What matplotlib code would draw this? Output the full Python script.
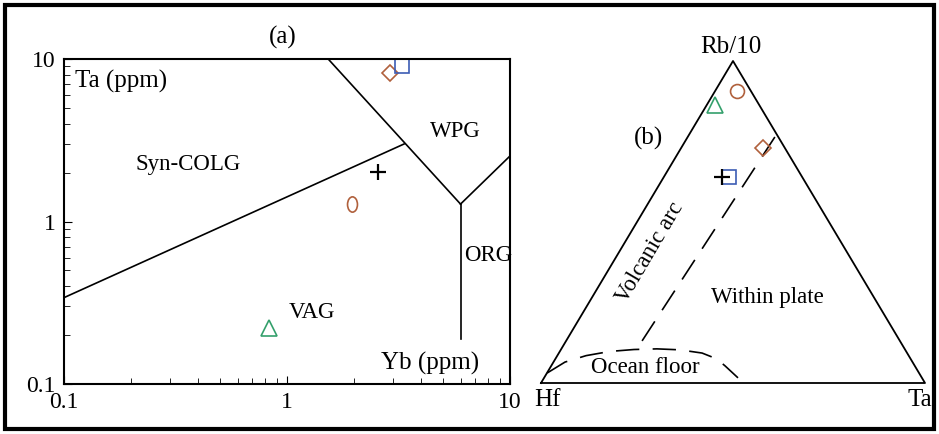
import numpy as np
import matplotlib
matplotlib.use("Agg")
import matplotlib.pyplot as plt
from matplotlib.patches import Rectangle
from matplotlib.path import Path
from matplotlib.transforms import Affine2D
from matplotlib.ticker import LogLocator, NullFormatter, FixedLocator, FixedFormatter

plt.rcParams['font.family'] = ['Liberation Serif', 'DejaVu Serif']

# ---- data: (a) Yb-Ta diagram ----
syn_vag_yb = [0.1, 3.35]
syn_vag_ta = [0.34, 3.0]
wpg_yb = [1.53, 6.0]
wpg_ta = [10.0, 1.28]
org_right_yb = [6.0, 10.0]
org_right_ta = [1.28, 2.53]
org_vert_yb = [6.0, 6.0]
org_vert_ta = [1.28, 0.19]

samples = ['diamond', 'square', 'plus', 'circle', 'triangle']
yb_vals = [2.9, 3.28, 2.56, 1.95, 0.83]
ta_vals = [8.2, 9.06, 2.02, 1.28, 0.22]

# ---- data: (b) Hf - Rb/10 - Ta ternary (fractions) ----
tern_rb = [0.730, 0.640, 0.640, 0.907, 0.863]
tern_ta = [0.213, 0.170, 0.151, 0.057, 0.021]

div_rb = [0.764, 0.112]
div_ta = [0.227, 0.197]
ocean_rb = [0.031, 0.065, 0.085, 0.098, 0.104, 0.106, 0.103, 0.093, 0.075, 0.053, 0.016]
ocean_ta = [0.0005, 0.030, 0.075, 0.130, 0.190, 0.249, 0.310, 0.373, 0.420, 0.453, 0.505]

brown = '#b0603c'
blue = '#3c5cb4'
green = '#34a06c'
ellipse = Path.unit_circle().transformed(Affine2D().scale(0.65, 1.0))
styles = {
    'diamond': dict(marker='D', ms=8, mfc='none', mec=brown, mew=1.2),
    'square': dict(marker='s', ms=10, mfc='none', mec=blue, mew=1.2),
    'plus': dict(marker='+', ms=11, mec='black', mew=1.6),
    'circle': dict(marker=ellipse, ms=11, mfc='none', mec=brown, mew=1.2),
    'triangle': dict(marker='^', ms=12, mfc='none', mec=green, mew=1.2),
}

fig = plt.figure(figsize=(9.39, 4.34), dpi=100)
W, H = 939, 434

# outer frame
fig.patches.append(Rectangle((5 / W, 5 / H), 929 / W, 424 / H, transform=fig.transFigure,
                             fill=False, lw=3.0, ec='black'))

# ---------- panel (a) ----------
ax = fig.add_axes([64 / W, 1 - 384 / H, (510 - 64) / W, (384 - 59) / H])
ax.set_xscale('log')
ax.set_yscale('log')
ax.set_xlim(0.1, 10)
ax.set_ylim(0.1, 10)
for s in ax.spines.values():
    s.set_linewidth(1.5)
lk = dict(color='black', lw=1.2)
ax.plot(syn_vag_yb, syn_vag_ta, **lk)
ax.plot(wpg_yb, wpg_ta, **lk)
ax.plot(org_right_yb, org_right_ta, **lk)
ax.plot(org_vert_yb, org_vert_ta, **lk)
for name, x, y in zip(samples, yb_vals, ta_vals):
    ax.plot(x, y, ls='none', clip_on=False, **styles[name])

for axis in (ax.xaxis, ax.yaxis):
    axis.set_major_locator(FixedLocator([0.1, 1, 10]))
    axis.set_major_formatter(FixedFormatter(['0.1', '1', '10']))
    axis.set_minor_locator(LogLocator(base=10, subs=np.arange(2, 10)))
    axis.set_minor_formatter(NullFormatter())
ax.tick_params(which='major', direction='in', length=6, width=0.8, labelsize=17, pad=6)
ax.tick_params(which='minor', direction='in', length=4, width=0.6)

lab = dict(fontsize=18)
reg = dict(fontsize=16.5)
ax.text(0.112, 7.3, 'Ta (ppm)', ha='left', va='center', **lab)
ax.text(0.36, 2.25, 'Syn-COLG', ha='center', va='center', **reg)
ax.text(5.7, 3.6, 'WPG', ha='center', va='center', **reg)
ax.text(10.2, 0.62, 'ORG', ha='right', va='center', **reg)
ax.text(1.3, 0.275, 'VAG', ha='center', va='center', **reg)
ax.text(4.4, 0.133, 'Yb (ppm)', ha='center', va='center', **lab)
fig.text(283 / W, 1 - 37 / H, '(a)', ha='center', va='center', fontsize=18)

# ---------- panel (b) ----------
bx = fig.add_axes([541 / W, 1 - 383 / H, 384 / W, 322 / H])
bx.set_xlim(0, 1)
bx.set_ylim(0, 1)
bx.axis('off')


def tern(rb, ta):
    rb = np.asarray(rb, dtype=float)
    ta = np.asarray(ta, dtype=float)
    return ta + rb / 2, rb


bx.plot([0, 0.5, 1, 0], [0, 1, 0, 0], color='black', lw=1.3, clip_on=False)
dx, dy = tern(div_rb, div_ta)
bx.plot(dx, dy, color='black', lw=1.2, dashes=(14, 8))
ox, oy = tern(ocean_rb, ocean_ta)
bx.plot(ox, oy, color='black', lw=1.2, dashes=(14, 8))
tx, ty = tern(tern_rb, tern_ta)
bstyles = dict(styles)
bstyles['circle'] = dict(marker='o', ms=10, mfc='none', mec=brown, mew=1.2)
for name, x, y in zip(samples, tx, ty):
    bx.plot(x, y, ls='none', clip_on=False, **bstyles[name])

bx.text(0.495, 1.043, 'Rb/10', ha='center', va='center', **lab)
bx.text(0.279, 0.761, '(b)', ha='center', va='center', **lab)
bx.text(0.284, 0.404, 'Volcanic arc', ha='center', va='center', rotation=59.5, **reg)
bx.text(0.589, 0.267, 'Within plate', ha='center', va='center', **reg)
bx.text(0.271, 0.047, 'Ocean floor', ha='center', va='center', **reg)
bx.text(0.016, -0.053, 'Hf', ha='center', va='center', **lab)
bx.text(0.987, -0.053, 'Ta', ha='center', va='center', **lab)

fig.savefig('out.png', dpi=100)
